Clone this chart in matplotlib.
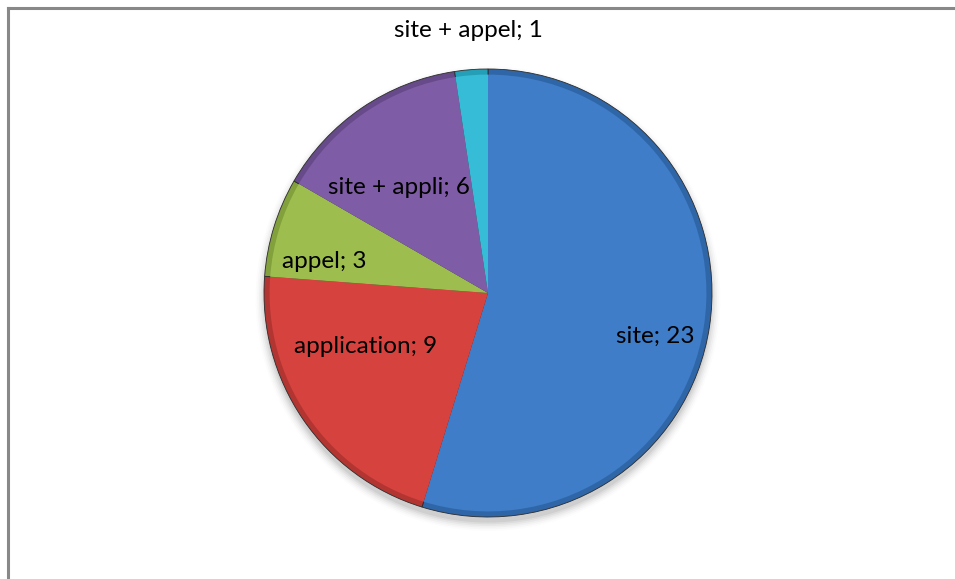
import numpy as np
import matplotlib.pyplot as plt
from matplotlib.patches import Ellipse

labels = ['site', 'application', 'appel', 'site + appli', 'site + appel']
values = [23, 9, 3, 6, 1]
colors = ['#3F7DC8', '#D6423E', '#9DBE4F', '#7F5CA6', '#36BCD6']
edge_colors = ['#2F66A8', '#B33532', '#82A03C', '#664A8A', '#259FB8']

# label placement (radius fraction, angle tweak in degrees)
lab_r = [0.77, 0.59, 0.75, 0.63, 1.19]
lab_da = [-5, -12, 5, 5, 0]

plt.rcParams['font.family'] = ['Lato', 'DejaVu Sans']

fig = plt.figure(figsize=(9.55, 5.79), dpi=100)
W, H = 955, 579
cx, cy, R = 488, 293, 224
ax = fig.add_axes([(cx - R) / W, (H - cy - R) / H, 2 * R / W, 2 * R / H])

# soft shadow under the pie
for i, a in enumerate(np.linspace(0.05, 0.01, 6)):
    ax.add_patch(Ellipse((0.0, -0.025), 2.0 + i * 0.015, 2.0 + i * 0.015,
                         color='black', alpha=a, lw=0, zorder=0, clip_on=False))

# outer darker rim, then body -> bevel look
ax.pie(values, colors=edge_colors, startangle=90, counterclock=False,
       radius=1.0, wedgeprops=dict(linewidth=0.6, edgecolor='#2b2b2b'))
wedges, _ = ax.pie(values, colors=colors, startangle=90, counterclock=False,
                   radius=0.975, wedgeprops=dict(linewidth=0))

ax.set_xlim(-1, 1)
ax.set_ylim(-1, 1)
ax.set_aspect('equal')
ax.axis('off')

for w, lab, v, r, da in zip(wedges, labels, values, lab_r, lab_da):
    mid = np.deg2rad((w.theta1 + w.theta2) / 2 + da)
    ax.text(r * np.cos(mid), r * np.sin(mid) - 0.015, f'{lab}; {v}',
            ha='center', va='center', fontsize=17.5, color='black')

# frame (top and left edges visible)
fig.add_artist(plt.Line2D([8 / W, 1], [1 - 8 / H, 1 - 8 / H], color='#888888', lw=2.2))
fig.add_artist(plt.Line2D([8 / W, 8 / W], [0, 1 - 8 / H], color='#888888', lw=2.2))

fig.savefig('out.png', dpi=100)
